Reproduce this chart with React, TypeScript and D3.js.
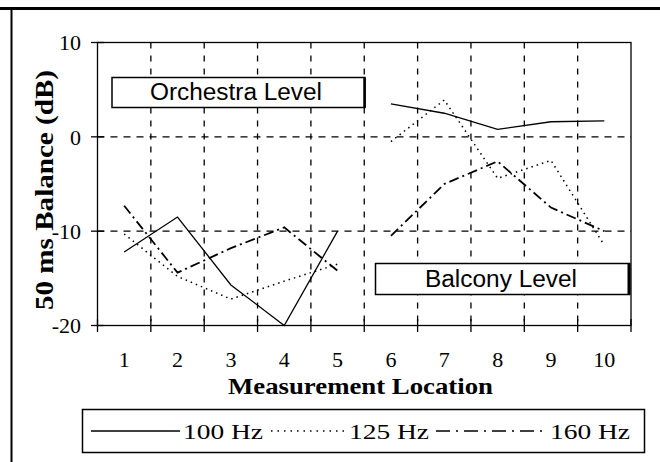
import React from "react";
import * as d3 from "d3";

const categories = ["1", "2", "3", "4", "5", "6", "7", "8", "9", "10"];
const hz100 = [-12.2, -8.5, -15.7, -20, -10, 3.5, 2.5, 0.8, 1.6, 1.7];
const hz125 = [-10.3, -14.8, -17.2, -15.3, -13.5, -0.5, 3.9, -4.4, -2.5, -11.5];
const hz160 = [-7.3, -14.4, -11.8, -9.6, -14.2, -10.5, -5, -2.6, -7.5, -10];
const yTicks = [10, 0, -10, -20];
const gridY = [0, -10];
const seriesNames = ["100 Hz", "125 Hz", "160 Hz"];
const groups = [[0, 5], [5, 10]];

const W = 660, H = 462;
const left = 97.5, right = 631, top = 42.5, bottom = 325.5;

export default function App() {
  const x = d3.scaleBand<string>().domain(categories).range([left, right]).paddingInner(0).paddingOuter(0);
  const bw = x.bandwidth();
  const cx = (c: string) => (x(c) as number) + bw / 2;
  const y = d3.scaleLinear().domain([-20, 10]).range([bottom, top]);
  const edges = categories.map((c) => x(c) as number).concat([right]);

  const series = [
    { name: seriesNames[0], values: hz100, dash: "none", width: 1.3 },
    { name: seriesNames[1], values: hz125, dash: "1.5,4", width: 1.5 },
    { name: seriesNames[2], values: hz160, dash: "10,4,2,4", width: 1.8 },
  ];
  const line = d3.line<[number, number]>().x((d) => d[0]).y((d) => d[1]);

  const serif = "'Liberation Serif', 'Times New Roman', serif";
  const sans = "'Liberation Sans', Arial, sans-serif";
  const legendText = [
    { x: 183, label: seriesNames[0] },
    { x: 349, label: seriesNames[1] },
    { x: 550, label: seriesNames[2] },
  ];

  return (
    <svg width={W} height={H} style={{ position: "absolute", left: 0, top: 0, background: "#fff" }}>
      <rect x={0} y={0} width={W} height={H} fill="#fff" />
      {/* outer frame lines */}
      <line x1={0} x2={W} y1={8.5} y2={8.5} stroke="#000" strokeWidth={3} />
      <line x1={11.5} x2={11.5} y1={8} y2={H} stroke="#000" strokeWidth={2} />

      {/* grid */}
      {edges.slice(1, -1).map((e, i) => (
        <line key={"gv" + i} x1={e} x2={e} y1={top} y2={bottom} stroke="#000" strokeWidth={1.3} strokeDasharray="6,7" />
      ))}
      {gridY.map((v) => (
        <line key={"gh" + v} x1={left} x2={right} y1={y(v)} y2={y(v)} stroke="#000" strokeWidth={1.3} strokeDasharray="7,6" />
      ))}

      {/* plot frame */}
      <rect x={left} y={top} width={right - left} height={bottom - top} fill="none" stroke="#000" strokeWidth={1.3} />

      {/* y ticks */}
      {yTicks.map((v) => (
        <g key={"yt" + v}>
          <line x1={91} x2={104} y1={y(v)} y2={y(v)} stroke="#000" strokeWidth={1.3} />
          <text x={81} y={y(v)} dy="0.35em" textAnchor="end" fontFamily={serif} fontSize={22}>{v}</text>
        </g>
      ))}
      {/* x ticks */}
      {edges.map((e, i) => (
        <line key={"xt" + i} x1={e} x2={e} y1={319} y2={332} stroke="#000" strokeWidth={1.3} />
      ))}
      {categories.map((c) => (
        <text key={"xl" + c} x={cx(c)} y={367} textAnchor="middle" fontFamily={serif} fontSize={22}>{c}</text>
      ))}

      {/* series */}
      {series.map((s) =>
        groups.map(([a, b], gi) => (
          <path
            key={s.name + gi}
            d={line(categories.slice(a, b).map((c, i) => [cx(c), y(s.values[a + i])]) as [number, number][]) || ""}
            fill="none"
            stroke="#000"
            strokeWidth={s.width}
            strokeDasharray={s.dash}
          />
        ))
      )}

      {/* annotations */}
      <rect x={112} y={77.5} width={253} height={30} fill="#fff" stroke="#000" strokeWidth={1.5} />
      <line x1={364.5} x2={364.5} y1={77.5} y2={107.5} stroke="#000" strokeWidth={2.5} />
      <text x={150} y={100} fontFamily={sans} fontSize={23} textLength={172} lengthAdjust="spacingAndGlyphs">Orchestra Level</text>
      <rect x={375.5} y={263.5} width={254} height={31} fill="#fff" stroke="#000" strokeWidth={1.5} />
      <line x1={629} x2={629} y1={263.5} y2={294.5} stroke="#000" strokeWidth={3} />
      <text x={425} y={287} fontFamily={sans} fontSize={23} textLength={152} lengthAdjust="spacingAndGlyphs">Balcony Level</text>

      {/* axis titles */}
      <text x={228} y={394} fontFamily={serif} fontSize={24} fontWeight="bold" textLength={265} lengthAdjust="spacingAndGlyphs">Measurement Location</text>
      <text transform="translate(53,310) rotate(-90)" fontFamily={serif} fontSize={25} fontWeight="bold" textLength={240} lengthAdjust="spacingAndGlyphs">50 ms Balance (dB)</text>

      {/* legend */}
      <rect x={82.5} y={409.5} width={562} height={43} fill="#fff" stroke="#000" strokeWidth={1.5} />
      <line x1={91} x2={180} y1={431} y2={431} stroke="#000" strokeWidth={1.3} />
      <line x1={271} x2={345} y1={431} y2={431} stroke="#000" strokeWidth={1.5} strokeDasharray="1.5,5" />
      <line x1={436} x2={546} y1={431} y2={431} stroke="#000" strokeWidth={1.5} strokeDasharray="14,6,2,6" />
      {legendText.map((t) => (
        <text key={t.label} x={t.x} y={439} fontFamily={serif} fontSize={22} textLength={80} lengthAdjust="spacingAndGlyphs">{t.label}</text>
      ))}
    </svg>
  );
}
